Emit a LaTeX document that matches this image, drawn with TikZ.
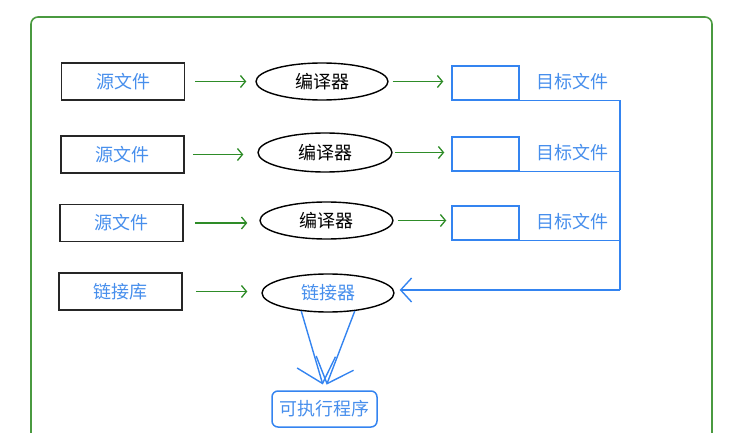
\documentclass[tikz,border=0pt]{standalone}
\usepackage{fontspec}
\setmainfont{Noto Sans CJK SC}
\usetikzlibrary{shapes.geometric,arrows.meta}
\definecolor{frameg}{RGB}{74,154,64}
\definecolor{arrg}{RGB}{46,140,40}
\definecolor{lblue}{RGB}{52,132,240}
\definecolor{tblue}{RGB}{70,142,236}
\tikzset{
  every node/.style={font=\fontsize{18}{21}\selectfont},
  srcbox/.style={draw=black!85, line width=1.6pt, minimum width=123pt, minimum height=37pt, inner sep=0pt, text=tblue},
  tool/.style={draw=black, ellipse, line width=1.4pt, minimum width=132pt, minimum height=37pt, inner sep=0pt},
  objbox/.style={draw=lblue, line width=1.5pt, minimum width=67pt, minimum height=34pt, inner sep=0pt},
  lbl/.style={text=tblue, inner sep=0pt},
  garrow/.style={draw=arrg, line width=1.3pt, -{Straight Barb[length=5pt,width=12pt]}},
  barrow/.style={draw=lblue, line width=1.4pt},
}
\begin{document}
\begin{tikzpicture}[x=1pt,y=-1pt]
\useasboundingbox (0,0) rectangle (732,433);
\draw[frameg, line width=1.6pt, rounded corners=7pt] (31,445) -- (31,17) -- (712,17) -- (712,445);

\node[srcbox] (s1) at (123,81.5) {源文件};
\node[srcbox] (s2) at (122.5,154.5) {源文件};
\node[srcbox] (s3) at (121.5,223) {源文件};
\node[srcbox] (lib) at (120.5,291.5) {链接库};

\node[tool] (c1) at (322,81.5) {编译器};
\node[tool, minimum width=134pt, minimum height=39pt] (c2) at (325,152.5) {编译器};
\node[tool, minimum width=133pt] (c3) at (326.5,220.5) {编译器};
\node[tool, minimum height=38pt, text=tblue] (link) at (328,293) {链接器};

\node[objbox] (o1) at (485.5,83) {};
\node[objbox] (o2) at (485.5,154) {};
\node[objbox] (o3) at (485.5,223) {};

\node[lbl] (t1) at (572,82) {目标文件};
\node[lbl] (t2) at (572,153) {目标文件};
\node[lbl] (t3) at (572,222) {目标文件};

\node[draw=lblue, line width=1.5pt, rounded corners=6pt, minimum width=105pt, minimum height=36pt, inner sep=0pt, text=tblue] (exe) at (324.5,409) {可执行程序};

\coordinate (j) at (620,290);

\draw[garrow, shorten <=10pt, shorten >=9pt] (s1.east) -- (s1.east -| c1.west);
\draw[garrow, shorten <=8pt, shorten >=14pt] (s2.east) -- (s2.east -| c2.west);
\draw[garrow, shorten <=11pt, shorten >=12pt] (s3.east) -- (s3.east -| c3.west);
\draw[garrow, shorten <=13pt, shorten >=14pt] (lib.east) -- (lib.east -| link.west);

\draw[garrow, shorten <=4pt, shorten >=8pt] (c1.east) -- (o1.west |- c1.east);
\draw[garrow, shorten <=2pt, shorten >=7pt] (c2.east) -- (o2.west |- c2.east);
\draw[garrow, shorten <=4pt, shorten >=5pt] (c3.east) -- (o3.west |- c3.east);

\draw[barrow] (o1.south east) -| (j);
\draw[barrow] (o2.south east) -- (o2.south east -| j);
\draw[barrow] (o3.south east) -- (o3.south east -| j);
\draw[barrow, -{Straight Barb[length=11pt,width=24pt]}, shorten >=5pt] (j) -- (j -| link.east);

\draw[barrow, -{Straight Barb[length=22pt,width=40pt]}, shorten >=6pt] (link.-146) -- (exe.north);
\draw[barrow, -{Straight Barb[length=22pt,width=40pt]}, shorten >=6pt] (link.-34) -- (exe.north);
\end{tikzpicture}
\end{document}
